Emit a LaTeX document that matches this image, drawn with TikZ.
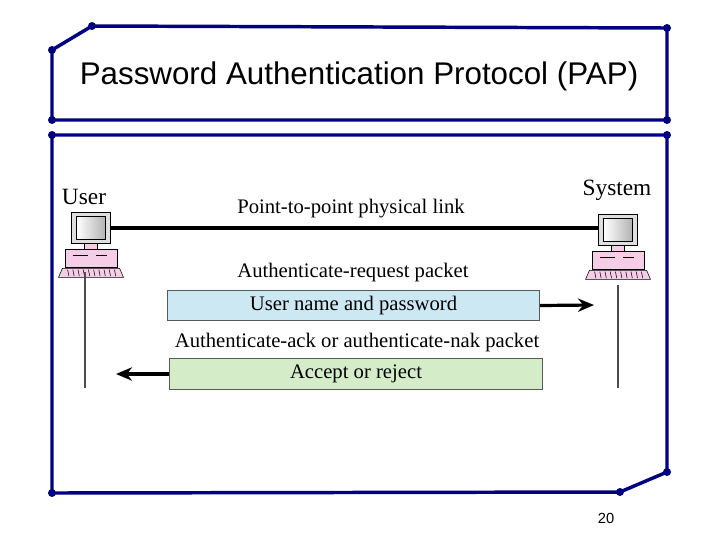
\documentclass[tikz,border=0pt]{standalone}
\usepackage{fontspec}
\setmainfont{Liberation Serif}
\newfontfamily\sansf{Liberation Sans}
\usetikzlibrary{arrows.meta}
\definecolor{navy}{RGB}{0,0,128}
\definecolor{boxblue}{RGB}{204,232,243}
\definecolor{boxgreen}{RGB}{212,237,200}
\definecolor{pinkpc}{RGB}{245,205,230}
\begin{document}
\begin{tikzpicture}[x=0.75pt,y=-0.75pt,
  frame/.style={navy,line width=2.6pt},
  dot/.style={circle,fill=navy,inner sep=0pt,minimum size=6pt},
  lbl/.style={font=\fontsize{15.5}{17}\selectfont,inner sep=0pt},
  pkt/.style={draw=gray!70!black,line width=0.8pt,inner sep=0pt,font=\fontsize{15.5}{17}\selectfont},
  life/.style={black!70,line width=1pt},
  arr/.style={line width=2.4pt,-{Stealth[length=12pt,width=10pt]}}]
\useasboundingbox (0,0) rectangle (720,540);
% frames
\coordinate (a1) at (52,50); \coordinate (a2) at (92,26); \coordinate (a3) at (667,28);
\coordinate (a4) at (667,120); \coordinate (a5) at (52,120);
\draw[frame] (a1)--(a2)--(a3)--(a4)--(a5)--cycle;
\coordinate (b1) at (52,135); \coordinate (b2) at (667,135); \coordinate (b3) at (667,472);
\coordinate (b4) at (620,492); \coordinate (b5) at (52,493);
\draw[frame] (b1)--(b2)--(b3)--(b4)--(b5)--cycle;
\foreach \p in {a1,a2,a3,a4,a5,b1,b2,b3,b4,b5} \node[dot] at (\p) {};
\node[font=\sansf\fontsize{23.5}{26}\selectfont] (title) at (359,76) {Password Authentication Protocol (PAP)};
\node[font=\sansf\fontsize{11}{13}\selectfont] (pg) at (606,518) {20};
% computers
\tikzset{pc/.pic={
  \draw[fill=pinkpc] (-5,12) rectangle (5,16);
  \draw[fill=gray!25] (-15,-12) rectangle (15,12);
  \shade[left color=white,right color=gray!60,draw=black] (-11,-9) rectangle (11,9);
  \draw[fill=pinkpc] (-20,16) rectangle (20,30);
  \draw (-14,21)--(-2,21) (4,21)--(12,21);
  \draw[fill=pinkpc] (-22,31)--(22,31)--(25,38)--(-25,38)--cycle;
  \foreach \i in {-18,-14,...,18} \draw (\i,32)--(\i+1,37);
}}
\pic[scale=1.3] (upc) at (91,228) {pc};
\pic[scale=1.3] (spc) at (618,230) {pc};
\node[lbl,font=\fontsize{17.5}{19}\selectfont] (user) at (84,197) {User};
\node[lbl,font=\fontsize{17.5}{19}\selectfont] (sys) at (617,190) {System};
\coordinate (lu) at (111,228); \coordinate (ls) at (598,228);
\draw[line width=2.6pt] (lu)--(ls);
\node[lbl] (link) at (351,209) {Point-to-point physical link};
% lifelines
\coordinate (u1) at (85,272); \coordinate (u2) at (85,388);
\coordinate (s1) at (618,285); \coordinate (s2) at (618,388);
\draw[life] (u1)--(u2); \draw[life] (s1)--(s2);
% packets
\node[lbl] (req) at (353,273) {Authenticate-request packet};
\node[pkt,fill=boxblue,minimum width=279pt,minimum height=23pt] (p1) at (353.5,305.5) {User name and password};
\coordinate (t1) at (594,305);
\draw[arr] (p1.east)--(t1);
\node[lbl] (ack) at (357,343) {Authenticate-ack or authenticate-nak packet};
\node[pkt,fill=boxgreen,minimum width=280pt,minimum height=23pt] (p2) at (356,374) {Accept or reject};
\coordinate (t2) at (116,374);
\draw[arr] (p2.west)--(t2);
\end{tikzpicture}
\end{document}
